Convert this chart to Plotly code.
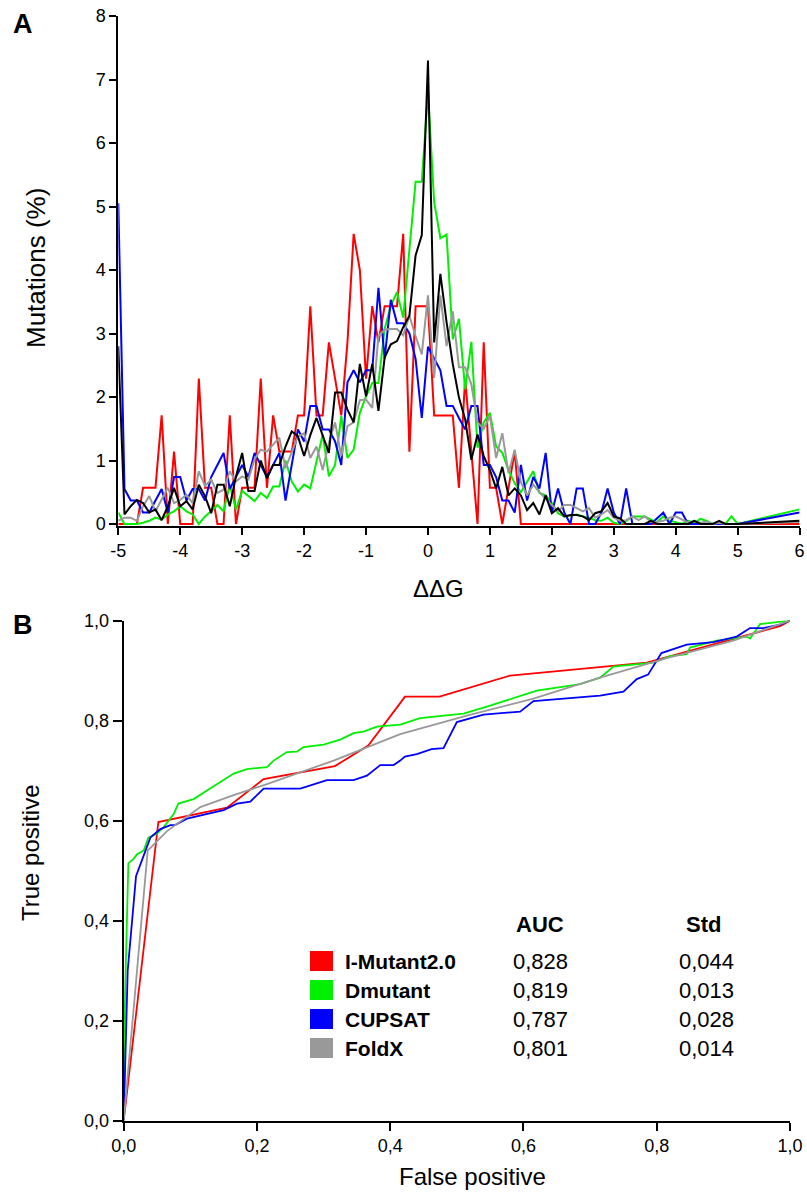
import plotly.graph_objects as go

W, H = 807, 1196

# ---------------- Panel A data (mutations % per ddG bin) ----------------
ddg_bins = [round(-5 + 0.1 * i, 1) for i in range(101)] + [6.0]

imutant_pct = [
    0, 0, 0, 0, 0.57, 0.57, 0.57, 1.71, 0, 1.14,
    0, 0, 0, 2.29, 0.57, 0.57, 0, 0, 1.71, 0,
    0.57, 0.57, 0.57, 2.29, 0.57, 1.71, 1.14, 1.14, 1.14, 1.71,
    1.71, 3.43, 1.71, 1.71, 2.86, 2.29, 1.71, 2.86, 4.57, 4.0,
    2.29, 3.43, 2.86, 3.43, 3.43, 3.43, 4.57, 1.14, 3.43, 3.43,
    3.43, 1.71, 1.71, 1.71, 1.71, 0.57, 2.29, 1.14, 0, 2.86,
    0.57, 0.57, 0, 0.57, 1.14, 0, 0, 0, 0, 0,
    0, 0, 0, 0, 0, 0, 0, 0, 0, 0,
    0, 0, 0, 0, 0, 0, 0, 0, 0, 0,
    0, 0, 0, 0, 0, 0, 0, 0, 0, 0,
    0, 0]

dmutant_pct = [
    0.18, 0, 0, 0, 0.02, 0.05, 0.1, 0.07, 0.15, 0.2,
    0.28, 0.2, 0.15, 0.0, 0.12, 0.2, 0.3, 0.2, 0.62, 0.23,
    0.52, 0.44, 0.36, 0.49, 0.41, 0.59, 0.59, 1.0, 0.67, 0.51,
    0.62, 0.56, 1.01, 1.41, 0.75, 0.93, 1.7, 1.04, 1.17, 1.75,
    2.01, 2.22, 2.22, 3.07, 3.44, 3.65, 3.25, 4.3, 5.39, 5.39,
    6.8, 5.07, 4.5, 4.56, 2.91, 3.23, 2.12, 2.87, 1.2, 1.6,
    1.75, 1.22, 1.12, 0.85, 0.64, 0.5, 0.67, 0.83, 0.49, 0.45,
    0.33, 0.17, 0.12, 0.14, 0.15, 0.12, 0.1, 0.06, 0.05, 0.1,
    0.02, 0.0, 0.05, 0.12, 0.12, 0.12, 0.07, 0.03, 0.12, 0.05,
    0.03, 0.0, 0.05, 0.02, 0.08, 0.05, 0.0, 0.03, 0.0, 0.12,
    0, 0.23]

cupsat_pct = [
    5.05, 0.55, 0.37, 0.37, 0.18, 0.18, 0.37, 0.55, 0.18, 0.74,
    0.74, 0.37, 0.55, 0.55, 0.37, 0.74, 0.93, 1.12, 0.55, 0.74,
    0.93, 0.74, 1.12, 0.93, 0.74, 0.93, 1.12, 0.37, 0.93, 1.49,
    1.3, 1.86, 1.86, 1.49, 1.49, 1.3, 0.93, 2.23, 2.42, 2.23,
    2.42, 2.42, 3.72, 2.6, 3.53, 3.16, 3.16, 3.0, 2.6, 1.67,
    2.79, 2.6, 2.42, 1.86, 1.86, 1.67, 1.49, 1.86, 1.86, 0.93,
    0.93, 0.74, 0.37, 0.37, 0.18, 0.93, 0.37, 0.74, 0.56, 1.12,
    0.18, 0.56, 0.18, 0, 0.56, 0.56, 0, 0, 0.18, 0.56,
    0.18, 0, 0.56, 0, 0, 0, 0, 0.09, 0.18, 0,
    0.18, 0.18, 0, 0, 0, 0, 0, 0, 0, 0,
    0, 0.18]

foldx_pct = [
    0.05, 0.1, 0.1, 0.05, 0.28, 0.44, 0.2, 0.38, 0.57, 0.33,
    0.38, 0.46, 0.33, 0.83, 0.6, 0.7, 0.49, 0.54, 0.83, 0.67,
    0.75, 0.7, 1.02, 1.17, 1.14, 1.25, 1.36, 0.88, 1.14, 1.38,
    1.43, 1.04, 1.22, 0.85, 1.28, 1.6, 1.07, 1.54, 1.6, 1.95,
    1.96, 1.83, 2.96, 3.06, 3.07, 3.07, 2.97, 3.28, 2.96, 2.67,
    3.6, 2.3, 3.6, 2.8, 3.35, 2.47, 2.47, 2.2, 1.6, 1.5,
    1.7, 1.04, 1.43, 0.8, 1.17, 0.66, 0.45, 0.62, 0.5, 0.4,
    0.3, 0.2, 0.3, 0.3, 0.25, 0.2, 0.25, 0.1, 0.15, 0.22,
    0.1, 0.05, 0.06, 0.12, 0.06, 0.12, 0.03, 0.03, 0.05, 0.1,
    0.12, 0.07, 0.02, 0.05, 0.02, 0.04, 0.0, 0.02, 0.0, 0.0,
    0, 0.03]

consensus_pct = [
    2.8, 0.15, 0.28, 0.38, 0.33, 0.18, 0.23, 0.06, 0.28, 0.57,
    0.28, 0.36, 0.23, 0.62, 0.44, 0.17, 0.62, 0.62, 0.28, 0.75,
    1.12, 0.52, 0.52, 1.0, 0.72, 0.93, 0.93, 1.22, 1.46, 1.38,
    1.07, 1.4, 1.67, 1.38, 1.12, 2.07, 2.07, 1.8, 1.6, 2.52,
    2.01, 2.52, 1.78, 2.62, 2.83, 2.88, 3.1, 3.28, 4.23, 4.55,
    7.3, 2.86, 3.94, 3.18, 2.52, 1.99, 1.65, 1.01, 1.41, 1.07,
    0.85, 0.56, 0.9, 0.45, 0.56, 0.45, 0.22, 0.33, 0.15, 0.45,
    0.17, 0.25, 0.12, 0.14, 0.14, 0.12, 0.06, 0.17, 0.2, 0.33,
    0.12, 0.09, 0, 0, 0, 0, 0.05, 0, 0, 0,
    0, 0, 0, 0.05, 0, 0, 0, 0.05, 0, 0,
    0, 0.05]

# ---------------- Panel B data (ROC curves) ----------------
imutant_fpr = [0, 0.052, 0.155, 0.21, 0.317, 0.367, 0.415, 0.422, 0.474, 0.58, 0.785, 0.915, 0.985, 1.0]
imutant_tpr = [0, 0.597, 0.626, 0.683, 0.709, 0.75, 0.835, 0.848, 0.848, 0.89, 0.916, 0.963, 0.989, 1.0]

dmutant_fpr = [0, 0.002, 0.007, 0.0145, 0.02, 0.03, 0.037, 0.05, 0.06, 0.075, 0.082, 0.105, 0.125,
               0.145, 0.165, 0.185, 0.215, 0.225, 0.245, 0.26, 0.27, 0.3, 0.325, 0.345, 0.36,
               0.38, 0.415, 0.445, 0.51, 0.55, 0.62, 0.685, 0.715, 0.735, 0.795, 0.82, 0.845,
               0.85, 0.89, 0.935, 0.94, 0.955, 0.98, 1.0]
dmutant_tpr = [0, 0.25, 0.515, 0.523, 0.533, 0.54, 0.566, 0.574, 0.587, 0.613, 0.634, 0.643, 0.66,
               0.677, 0.694, 0.703, 0.707, 0.72, 0.737, 0.738, 0.747, 0.752, 0.762, 0.775, 0.778,
               0.788, 0.792, 0.805, 0.814, 0.83, 0.86, 0.873, 0.886, 0.908, 0.916, 0.929, 0.933,
               0.946, 0.96, 0.968, 0.964, 0.993, 0.997, 1.0]

cupsat_fpr = [0, 0.006, 0.0185, 0.04, 0.055, 0.07, 0.077, 0.095, 0.15, 0.17, 0.19, 0.21, 0.265,
              0.305, 0.345, 0.365, 0.385, 0.405, 0.415, 0.422, 0.44, 0.462, 0.48, 0.5, 0.54,
              0.595, 0.615, 0.655, 0.715, 0.75, 0.77, 0.787, 0.807, 0.845, 0.885, 0.92, 0.94,
              0.96, 0.985, 1.0]
cupsat_tpr = [0, 0.3, 0.489, 0.566, 0.583, 0.591, 0.591, 0.604, 0.621, 0.634, 0.638, 0.664, 0.664,
              0.681, 0.681, 0.69, 0.711, 0.711, 0.72, 0.728, 0.733, 0.743, 0.745, 0.797, 0.812,
              0.818, 0.839, 0.844, 0.85, 0.858, 0.883, 0.892, 0.935, 0.952, 0.957, 0.968, 0.985,
              0.985, 0.992, 1.0]

foldx_fpr = [0, 0.036, 0.065, 0.115, 0.165, 0.215, 0.315, 0.415, 0.515, 0.615, 0.715, 0.815, 0.915, 1.0]
foldx_tpr = [0, 0.54, 0.579, 0.627, 0.651, 0.673, 0.72, 0.773, 0.81, 0.844, 0.886, 0.925, 0.96, 1.0]

methods = ["I-Mutant2.0", "Dmutant", "CUPSAT", "FoldX"]
auc_values = [0.828, 0.819, 0.787, 0.801]
std_values = [0.044, 0.013, 0.028, 0.014]
colors = ["#ff0000", "#00f000", "#0000ff", "#999999"]
consensus_color = "#000000"

ddg_ticks = list(range(-5, 7))
mut_ticks = list(range(0, 9))
roc_ticks = [0, 0.2, 0.4, 0.6, 0.8, 1.0]


def comma(v, nd=1):
    return f"{v:.{nd}f}".replace(".", ",")


FONT = "Arial, Liberation Sans, sans-serif"

fig = go.Figure()

panel_a = [imutant_pct, dmutant_pct, cupsat_pct, foldx_pct]
for name, vals, col in zip(methods, panel_a, colors):
    fig.add_trace(go.Scatter(x=ddg_bins, y=vals, mode="lines", name=name,
                             line=dict(color=col, width=2), xaxis="x", yaxis="y",
                             showlegend=False))
fig.add_trace(go.Scatter(x=ddg_bins, y=consensus_pct, mode="lines", name="Consensus",
                         line=dict(color=consensus_color, width=2), xaxis="x", yaxis="y",
                         showlegend=False))

roc = [(imutant_fpr, imutant_tpr), (dmutant_fpr, dmutant_tpr),
       (cupsat_fpr, cupsat_tpr), (foldx_fpr, foldx_tpr)]
for name, (fx, ty), col in zip(methods, roc, colors):
    fig.add_trace(go.Scatter(x=fx, y=ty, mode="lines", name=name,
                             line=dict(color=col, width=1.8), xaxis="x2", yaxis="y2",
                             showlegend=False))


def pxx(x):
    return x / W


def pyy(y):
    return 1 - y / H


# Panel A geometry (pixels)
A_left, A_right = 118.3, 799.6
A_top, A_zero = 16.0, 524.0
ymin_a = -0.03
unit_a = (A_zero - A_top) / 8.0
A_bottom = A_zero - ymin_a * unit_a

# Panel B geometry
B_left, B_right = 123.7, 790.0
B_top, B_bottom = 620.6, 1120.6

axis_common = dict(showgrid=False, zeroline=False, showline=True, linecolor="black",
                   linewidth=2, ticks="outside", tickcolor="black", tickwidth=2,
                   automargin=False, ticklabeloverflow="allow",
                   tickfont=dict(family=FONT, size=18, color="black"))

fig.update_layout(
    width=W, height=H,
    margin=dict(l=0, r=0, t=0, b=0),
    paper_bgcolor="white", plot_bgcolor="white",
    showlegend=False,
    xaxis=dict(domain=[pxx(A_left), pxx(A_right)], range=[-5, 6], anchor="y",
               tickmode="array", tickvals=ddg_ticks, ticktext=[str(t) for t in ddg_ticks],
               ticklen=7, **axis_common),
    yaxis=dict(domain=[pyy(A_bottom), pyy(A_top)], range=[ymin_a, 8], anchor="x",
               tickmode="array", tickvals=mut_ticks, ticktext=[str(t) for t in mut_ticks],
               ticklen=7, **axis_common),
    xaxis2=dict(domain=[pxx(B_left), pxx(B_right)], range=[0, 1], anchor="y2",
                tickmode="array", tickvals=roc_ticks, ticktext=[comma(t) for t in roc_ticks],
                ticklen=8, **axis_common),
    yaxis2=dict(domain=[pyy(B_bottom), pyy(B_top)], range=[0, 1], anchor="x2",
                tickmode="array", tickvals=roc_ticks, ticktext=[comma(t) for t in roc_ticks],
                ticklen=9, **axis_common),
)

ann = []


def text(s, x, y, size, bold=False, angle=0, xanchor="center"):
    ann.append(dict(text=(f"<b>{s}</b>" if bold else s), x=pxx(x), y=pyy(y),
                    xref="paper", yref="paper", showarrow=False, textangle=angle,
                    xanchor=xanchor, yanchor="middle",
                    font=dict(family=FONT, size=size, color="black")))


text("A", 23, 24, 27, bold=True)
text("B", 23, 625, 27, bold=True)
text("Mutations (%)", 36, 268, 26, angle=-90)
text("\u0394\u0394G", 438, 589, 24)
text("True positive", 30, 853, 24, angle=-90)
text("False positive", 473, 1176, 24)

# ROC table legend
text("AUC", 540, 924, 22, bold=True)
text("Std", 703, 924, 22, bold=True)
row_y0, row_dy = 961, 29
shapes = []
for i, (m, a, s, c) in enumerate(zip(methods, auc_values, std_values, colors)):
    yc = row_y0 + i * row_dy
    shapes.append(dict(type="rect", xref="paper", yref="paper",
                       x0=pxx(310), x1=pxx(333), y0=pyy(yc + 10), y1=pyy(yc - 10),
                       fillcolor=c, line=dict(width=0)))
    text(m, 343, yc, 21, bold=True, xanchor="left")
    text(comma(a, 3), 540, yc, 22)
    text(comma(s, 3), 706, yc, 22)

fig.update_layout(annotations=ann, shapes=shapes)

fig.write_html(
    "out.html",
    config={"displayModeBar": False},
    post_script="document.body.style.margin='0';document.body.style.padding='0';"
                "document.body.style.overflow='hidden';",
)
